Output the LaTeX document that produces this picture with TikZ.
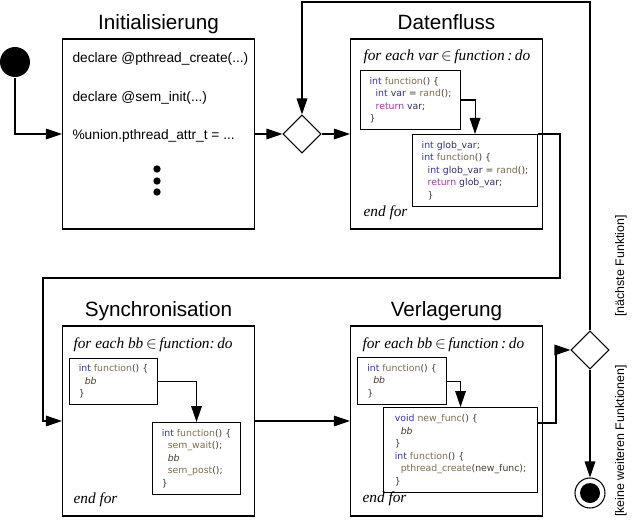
\documentclass[tikz,border=0pt]{standalone}
\usepackage{fontspec}
\setmainfont{Liberation Sans}
\newfontfamily\codefont{DejaVu Sans}
\newfontfamily\loopfont{Liberation Serif}
\usetikzlibrary{arrows.meta,positioning,calc,shapes.geometric}

\definecolor{kwblue}{RGB}{51,51,187}
\definecolor{fnbrown}{RGB}{125,108,75}
\definecolor{varnavy}{RGB}{45,45,115}
\definecolor{retpurple}{RGB}{165,55,170}
\definecolor{codetxt}{RGB}{70,60,45}
\newcommand\ckw[1]{\textcolor{kwblue}{#1}}
\newcommand\cfn[1]{\textcolor{fnbrown}{#1}}
\newcommand\cvar[1]{\textcolor{varnavy}{#1}}
\newcommand\cret[1]{\textcolor{retpurple}{#1}}
\newcommand\cind{\hspace*{4.5pt}}
\newcommand\cbb{\textit{bb}}

\begin{document}
\begin{tikzpicture}[x=0.75pt,y=-0.75pt,line width=0.8pt,
  phase/.style={draw,minimum width=144pt,minimum height=142.5pt,inner sep=0pt},
  title/.style={font=\fontsize{15.5}{18}\selectfont,anchor=base,inner sep=0pt},
  decl/.style={font=\fontsize{10.3}{12}\selectfont,anchor=west,inner sep=0pt},
  loophead/.style={font=\loopfont\itshape\fontsize{11.5}{14}\selectfont,
    anchor=west,inner sep=0pt},
  codebox/.style={draw,anchor=north west,inner sep=0pt,
    align=left,text=codetxt,font=\codefont\fontsize{7}{9.4}\selectfont},
  branch/.style={diamond,draw,aspect=1,minimum size=28.5pt,inner sep=0pt},
  startdot/.style={circle,fill,minimum size=22.5pt,inner sep=0pt},
  enddot/.style={circle,draw,fill=white,minimum size=22.5pt,inner sep=0pt,
    path picture={\fill[black] (path picture bounding box.center) circle (7.5pt);}},
  ellip/.style={circle,fill,minimum size=5.5pt,inner sep=0pt},
  guard/.style={font=\fontsize{9.3}{11}\selectfont,rotate=90,inner sep=0pt},
  flow/.style={-{Triangle[length=12pt,width=8pt]}}
]
\useasboundingbox (0,0) rectangle (632,528);

% Initialisierung
\node[startdot] (start) at (15,62) {};
\node[phase] (init) at (158.5,134) {};
\node[title] (tinit) at ([yshift=7pt]init.north) {Initialisierung};
\node[decl] (dpc) at (72,59) {declare @pthread\_create(...)};
\node[decl] (dsi) at (72,98) {declare @sem\_init(...)};
\node[decl] (dun) at (72,136) {\%union.pthread\_attr\_t = ...};
\foreach \y [count=\i] in {169,181,192}
  \node[ellip] (dots\i) at (157,\y) {};

\node[branch] (merge) at (302,134) {};

% Datenfluss
\node[phase] (daten) at (446.5,134) {};
\node[title] (tdaten) at ([yshift=7pt]daten.north) {Datenfluss};
\node[loophead] (dhead) at (363,57) {for each var$\,\in\,$function\,:\,do};
\node[codebox,minimum width=75pt,minimum height=44.25pt] (dA) at (360,70)
  {\ckw{int} \cfn{function}() \{\\
   \cind\ckw{int} \cvar{var} = \cfn{rand}();\\
   \cind\cret{return} \cvar{var};\\
   \}};
\node[codebox,minimum width=93.75pt,minimum height=54pt] (dB) at (412,134)
  {\ckw{int} \cvar{glob\_var};\\
   \ckw{int} \cfn{function}() \{\\
   \cind\ckw{int} \cvar{glob\_var} = \cfn{rand}();\\
   \cind\cret{return} \cvar{glob\_var};\\
   \cind\}};
\node[loophead] (dend) at (363,213) {end for};

% Synchronisation
\node[phase] (sync) at (158.5,421) {};
\node[title] (tsync) at ([yshift=7pt]sync.north) {Synchronisation};
\node[loophead] (shead) at (73,345) {for each bb$\,\in\,$function:\,do};
\node[codebox,minimum width=66pt,minimum height=34.5pt] (sA) at (69,358)
  {\ckw{int} \cfn{function}() \{\\
   \cind\cbb\\
   \}};
\node[codebox,minimum width=66pt,minimum height=54pt] (sB) at (152,422)
  {\ckw{int} \cfn{function}() \{\\
   \cind\cfn{sem\_wait}();\\
   \cind\cbb\\
   \cind\cfn{sem\_post}();\\
   \}};
\node[loophead] (send) at (73,500) {end for};

% Verlagerung
\node[phase] (verl) at (446.5,421) {};
\node[title] (tverl) at ([yshift=7pt]verl.north) {Verlagerung};
\node[loophead] (vhead) at (362,345) {for each bb$\,\in\,$function\,:\,do};
\node[codebox,minimum width=66.75pt,minimum height=35.25pt] (vA) at (357,357)
  {\ckw{int} \cfn{function}() \{\\
   \cind\cbb\\
   \}};
\node[codebox,minimum width=115.5pt,minimum height=63.75pt] (vB) at (383,407)
  {\ckw{void} \cfn{new\_func}() \{\\
   \cind\cbb\\
   \}\\
   \ckw{int} \cfn{function}() \{\\
   \cind\cfn{pthread\_create}(new\_func);\\
   \}};
\node[loophead] (vend) at (362,499) {end for};

\node[branch] (choice) at (590,350) {};
\node[enddot] (stop) at (590,493) {};

\coordinate (bendA) at (560,278);
\coordinate (bendB) at (43,278);
\coordinate (bendC) at (556,350);
\coordinate (bendD) at (302,2);

\draw[flow] (start) |- (init);
\draw[flow] (init) -- (merge);
\draw[flow] (merge) -- (daten);
\draw[flow] (dA) -| (dB);
\draw[flow] (dB.north east) -| (bendA) -- (bendB) |- (sync);
\draw[flow] (sA) -| (sB);
\draw[flow] (sync) -- (verl);
\draw[flow] (vA) -| (vB);
\draw[flow] ($(vB.north east)+(0,16)$) -| (bendC) -- (choice);
\draw[flow] (choice.north) |- (bendD) -- (merge.north);
\draw[flow] (choice.south) -- (stop);

\node[guard] (lnext) at (621,266) {[nächste Funktion]};
\node[guard] (lnone) at (621,441) {[keine weiteren Funktionen]};
\end{tikzpicture}
\end{document}
